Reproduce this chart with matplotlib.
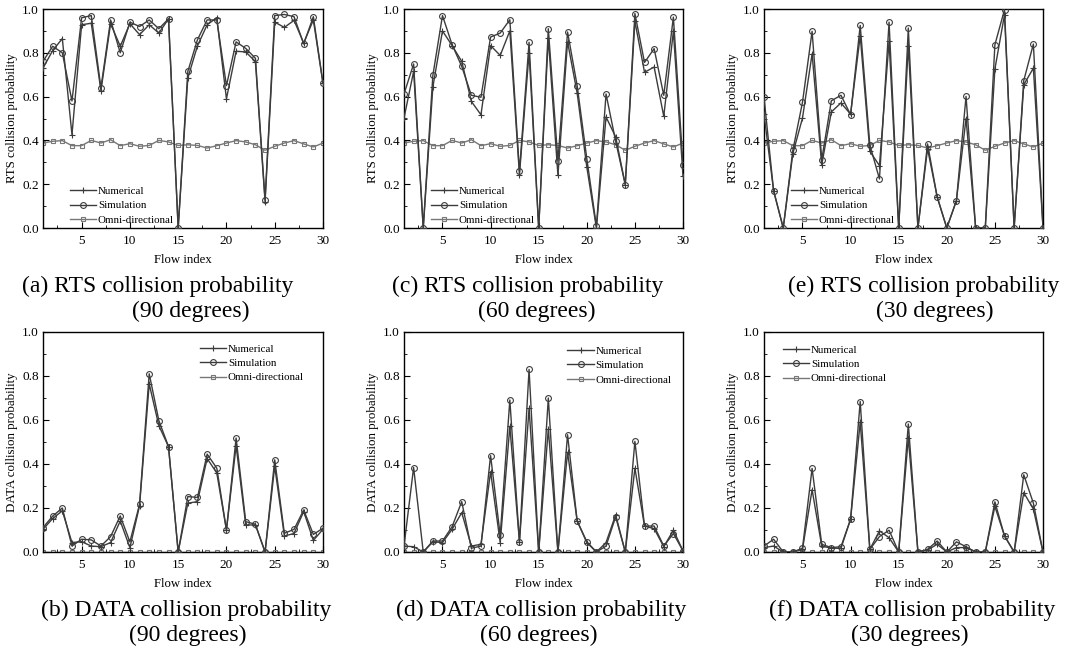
import matplotlib
matplotlib.use("Agg")
import matplotlib.pyplot as plt
from matplotlib.ticker import MultipleLocator
import numpy as np

plt.rcParams['font.family'] = ['Liberation Serif', 'DejaVu Serif']
plt.rcParams['mathtext.fontset'] = 'stix'

flow_index = list(range(1, 31))

# RTS collision probability
rts90_num = [0.73, 0.81, 0.865, 0.426, 0.928, 0.935, 0.627, 0.933, 0.83, 0.933,
             0.883, 0.928, 0.89, 0.955, 0.0, 0.685, 0.832, 0.928, 0.96, 0.59,
             0.807, 0.804, 0.76, 0.12, 0.94, 0.916, 0.948, 0.845, 0.95, 0.66]
rts90_sim = [0.761, 0.83, 0.80, 0.58, 0.96, 0.97, 0.64, 0.95, 0.80, 0.94,
             0.92, 0.95, 0.91, 0.955, 0.0, 0.715, 0.86, 0.95, 0.95, 0.65,
             0.85, 0.82, 0.775, 0.13, 0.97, 0.975, 0.965, 0.84, 0.965, 0.66]
rts60_num = [0.502, 0.715, 0.0, 0.644, 0.90, 0.833, 0.761, 0.578, 0.517, 0.833,
             0.788, 0.90, 0.243, 0.80, 0.0, 0.868, 0.24, 0.85, 0.616, 0.279,
             0.0, 0.507, 0.416, 0.198, 0.944, 0.711, 0.735, 0.51, 0.898, 0.236]
rts60_sim = [0.612, 0.749, 0.0, 0.697, 0.97, 0.837, 0.738, 0.606, 0.597, 0.872,
             0.89, 0.951, 0.259, 0.848, 0.0, 0.91, 0.307, 0.895, 0.65, 0.317,
             0.008, 0.612, 0.396, 0.198, 0.979, 0.756, 0.819, 0.606, 0.963, 0.289]
rts30_num = [0.52, 0.17, 0.0, 0.34, 0.502, 0.795, 0.289, 0.53, 0.571, 0.52,
             0.878, 0.35, 0.285, 0.852, 0.0, 0.833, 0.0, 0.362, 0.142, 0.0,
             0.125, 0.50, 0.0, 0.0, 0.726, 0.974, 0.0, 0.654, 0.73, 0.0]
rts30_sim = [0.597, 0.17, 0.0, 0.355, 0.574, 0.898, 0.312, 0.581, 0.606, 0.517,
             0.925, 0.38, 0.224, 0.94, 0.0, 0.913, 0.0, 0.384, 0.142, 0.0,
             0.125, 0.601, 0.0, 0.0, 0.837, 0.997, 0.0, 0.673, 0.84, 0.0]
rts_omni = [0.388, 0.396, 0.399, 0.376, 0.376, 0.40, 0.388, 0.403, 0.376, 0.385,
            0.373, 0.377, 0.40, 0.393, 0.377, 0.38, 0.377, 0.365, 0.376, 0.388,
            0.399, 0.393, 0.38, 0.355, 0.373, 0.388, 0.399, 0.384, 0.37, 0.388]

# DATA collision probability
data90_num = [0.103, 0.152, 0.187, 0.043, 0.047, 0.027, 0.024, 0.043, 0.141, 0.02,
              0.21, 0.764, 0.574, 0.479, 0.0, 0.222, 0.229, 0.425, 0.359, 0.10,
              0.483, 0.123, 0.123, 0.0, 0.389, 0.073, 0.084, 0.184, 0.053, 0.103]
data90_sim = [0.111, 0.163, 0.20, 0.027, 0.058, 0.055, 0.027, 0.07, 0.164, 0.046,
              0.217, 0.81, 0.597, 0.479, 0.0, 0.252, 0.248, 0.445, 0.381, 0.10,
              0.518, 0.138, 0.126, 0.0, 0.419, 0.085, 0.103, 0.191, 0.08, 0.108]
data60_num = [0.027, 0.024, 0.0, 0.046, 0.043, 0.103, 0.179, 0.027, 0.035, 0.365,
              0.043, 0.571, 0.047, 0.653, 0.0, 0.559, 0.0, 0.453, 0.141, 0.043,
              0.0, 0.043, 0.169, 0.0, 0.381, 0.118, 0.106, 0.024, 0.099, 0.005]
data60_sim = [0.027, 0.384, 0.0, 0.05, 0.05, 0.115, 0.229, 0.017, 0.027, 0.438,
              0.076, 0.691, 0.047, 0.83, 0.0, 0.70, 0.0, 0.533, 0.141, 0.047,
              0.0, 0.027, 0.16, 0.0, 0.503, 0.118, 0.118, 0.027, 0.084, 0.005]
data30_num = [0.02, 0.027, 0.0, 0.0, 0.012, 0.283, 0.027, 0.017, 0.017, 0.149,
              0.59, 0.012, 0.096, 0.065, 0.0, 0.518, 0.0, 0.009, 0.035, 0.0,
              0.02, 0.02, 0.0, 0.0, 0.207, 0.073, 0.0, 0.27, 0.195, 0.0]
data30_sim = [0.027, 0.058, 0.0, 0.0, 0.017, 0.38, 0.035, 0.02, 0.024, 0.149,
              0.684, 0.012, 0.07, 0.099, 0.0, 0.582, 0.0, 0.012, 0.05, 0.0,
              0.046, 0.024, 0.0, 0.0, 0.228, 0.073, 0.0, 0.351, 0.222, 0.0]
data_omni = [0.0] * 30

series_labels = ["Numerical", "Simulation", "Omni-directional"]
rts_ylabel = "RTS collision probability"
data_ylabel = "DATA collision probability"
x_label = "Flow index"
captions = [
    ("(a) RTS collision probability", "(90 degrees)"),
    ("(c) RTS collision probability", "(60 degrees)"),
    ("(e) RTS collision probability", "(30 degrees)"),
    ("(b) DATA collision probability", "(90 degrees)"),
    ("(d) DATA collision probability", "(60 degrees)"),
    ("(f) DATA collision probability", "(30 degrees)"),
]

W, H = 1073, 649
fig = plt.figure(figsize=(W / 100, H / 100), dpi=100)

def fx(px):
    return px / W

def fy(py):
    return 1 - py / H

col_px = [(43, 323), (404, 683), (764, 1043)]
row_px = [(9, 228), (332, 552)]

panels = [
    (0, 0, rts90_num, rts90_sim, rts_omni, rts_ylabel, ('lower left', (0.096, 0.015))),
    (0, 1, rts60_num, rts60_sim, rts_omni, rts_ylabel, ('lower left', (0.096, 0.015))),
    (0, 2, rts30_num, rts30_sim, rts_omni, rts_ylabel, ('lower left', (0.096, 0.015))),
    (1, 0, data90_num, data90_sim, data_omni, data_ylabel, ('upper left', (0.56, 0.945))),
    (1, 1, data60_num, data60_sim, data_omni, data_ylabel, ('upper left', (0.586, 0.935))),
    (1, 2, data30_num, data30_sim, data_omni, data_ylabel, ('upper left', (0.068, 0.94))),
]

caption_centers = [(158, 191), (528, 537), (924, 935), (186, 188), (541, 539), (912, 910)]

dark = '#3c3c3c'
omni_c = '#777777'

for i, (r, c, num, sim, omni, ylab, (lloc, lanchor)) in enumerate(panels):
    x0, x1 = col_px[c]
    y0, y1 = row_px[r]
    ax = fig.add_axes([fx(x0), fy(y1), fx(x1 - x0), (y1 - y0) / H])
    ax.plot(flow_index, num, color=dark, lw=1.0, marker='+', ms=5, mew=0.8,
            label=series_labels[0], zorder=3)
    ax.plot(flow_index, sim, color=dark, lw=1.0, marker='o', ms=4.2, mew=0.8,
            mfc='none', mec=dark, label=series_labels[1], zorder=4)
    ax.plot(flow_index, omni, color=omni_c, lw=1.0, marker='s', ms=3.2, mew=0.8,
            mfc='none', mec=omni_c, label=series_labels[2], zorder=2)
    ax.set_xlim(1, 30)
    ax.set_ylim(0, 1.0)
    ax.xaxis.set_major_locator(MultipleLocator(5))
    ax.xaxis.set_minor_locator(MultipleLocator(2.5))
    ax.yaxis.set_major_locator(MultipleLocator(0.2))
    ax.yaxis.set_minor_locator(MultipleLocator(0.1))
    ax.yaxis.set_major_formatter(matplotlib.ticker.FormatStrFormatter('%.1f'))
    ax.tick_params(which='both', direction='in', top=False, right=False,
                   labelsize=9.5, colors='black')
    ax.tick_params(which='major', length=4, width=0.8)
    ax.tick_params(which='minor', length=2, width=0.6)
    ax.tick_params(axis='x', pad=5)
    ax.tick_params(axis='y', pad=3)
    for s in ax.spines.values():
        s.set_linewidth(1.0)
        s.set_color('black')
    ax.set_ylabel(ylab, fontsize=9.3, labelpad=3)
    ax.legend(loc=lloc, bbox_to_anchor=lanchor, frameon=False, fontsize=7.9,
              handlelength=2.4, handletextpad=0.15, labelspacing=0.42,
              borderaxespad=0, borderpad=0)
    cx = (x0 + x1) / 2
    fig.text(fx(cx), fy(y1 + 35), x_label, ha='center', va='baseline', fontsize=9.2)
    l1, l2 = captions[i]
    c1, c2 = caption_centers[i]
    fig.text(fx(c1), fy(y1 + 64), l1, ha='center', va='baseline', fontsize=17)
    fig.text(fx(c2), fy(y1 + 89), l2, ha='center', va='baseline', fontsize=17)

fig.savefig("out.png", dpi=100)
